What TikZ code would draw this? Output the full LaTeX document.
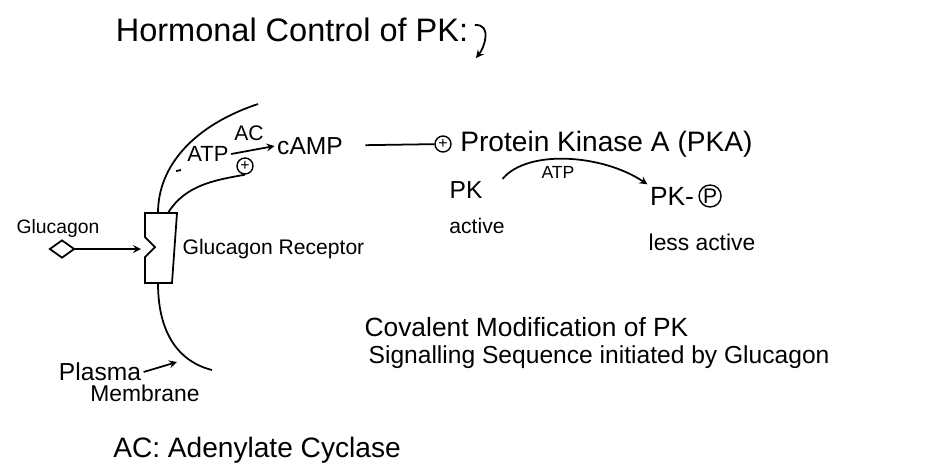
\documentclass[tikz,border=0pt]{standalone}
\usepackage{fontspec}
\setmainfont{Liberation Sans}
\usetikzlibrary{shapes.geometric,positioning}
\newcommand{\txtsz}[1]{\fontsize{#1}{#1}\selectfont}
\tikzset{
  txt/.style={inner sep=1pt},
  plus/.style={circle,draw,line width=0.8pt,inner sep=0pt,minimum size=0.32cm,font=\txtsz{9}},
}
\begin{document}
\begin{tikzpicture}[x=0.02cm,y=-0.02cm,line width=1pt,>=stealth]
        \useasboundingbox (0,0) rectangle (943,468);

            \node[txt,font=\txtsz{18.5}] (title) at (292,30) {Hormonal Control of PK:};
            \draw[->] ([shift={(4,-5)}]title.east) .. controls +(18,-1) and +(8,-10) .. (476,58);

            % membrane and receptor
            \draw (258,104) .. controls (195,125) and (158,165) .. (158,213);
            \draw (158,283) .. controls (158,335) and (180,362) .. (212,370);
            \draw (145,213) -- (177,213) -- (172,283) -- (145,283) -- (145,257) -- (155,247) -- (145,237) -- cycle;
            \coordinate (notch) at (141,249);

            \node[txt,font=\txtsz{11}] (glulbl) at (58,228) {Glucagon};
            \node[draw,diamond,inner sep=0pt,minimum width=0.5cm,minimum height=0.36cm] (glu) at (62,249) {};
            \draw[->] (glu) -- (notch);
            \node[txt,font=\txtsz{12},anchor=west] (rec) at (180,249) {Glucagon Receptor};

            \node[txt,font=\txtsz{14}] (plasma) at (100,372) {Plasma};
            \node[txt,font=\txtsz{13}] (membr) at (145,393) {Membrane};
            \coordinate (pmtip) at (177,362);
            \draw[->] (plasma.east) -- (pmtip);

            % adenylate cyclase step
            \node[txt,font=\txtsz{12.5}] (atp) at (208,154) {ATP};
            \node[txt,font=\txtsz{12}] (ac) at (249,133) {AC};
            \node[plus] (acplus) at (245,166) {+};
            \node[txt,font=\txtsz{14}] (camp) at (310,146) {cAMP};
            \draw[->] (atp.east) -- (camp.west);
            \draw (168,213) .. controls (185,185) and (215,180) .. (acplus.south);
            \draw (176,171) -- (181,170);

            \node[plus] (pkaplus) at (443,144) {+};
            \draw[shorten <=0.4cm] (camp) -- (pkaplus);
            \node[txt,font=\txtsz{16},right=0.12cm of pkaplus] (pka) {Protein Kinase A (PKA)};

            % phosphorylation of PK
            \node[txt,font=\txtsz{14}] (pk) at (466,190) {PK};
            \node[txt,font=\txtsz{12}] (pkact) at (477,226) {active};
            \node[txt,font=\txtsz{15}] (pkp) at (672,196) {PK-};
            \node[circle,draw,line width=0.8pt,inner sep=0pt,minimum size=0.44cm,font=\txtsz{12},right=1pt of pkp] (pcirc) {P};
            \node[txt,font=\txtsz{13}] (pkless) at (702,242) {less active};
            \draw[->] ([xshift=0.35cm]pk.north east) .. controls +(25,-30) and +(-45,-30) .. (pkp.north west);
            \node[txt,font=\txtsz{10}] (atp2) at (558,172) {ATP};

            % captions
            \node[txt,font=\txtsz{15},anchor=west] (cov) at (362,327) {Covalent Modification of PK};
            \node[txt,font=\txtsz{14},anchor=west] (sig) at (366,357) {Signalling Sequence initiated by Glucagon};
            \node[txt,font=\txtsz{16}] (acdef) at (257,450) {AC: Adenylate Cyclase};

        \end{tikzpicture}
\end{document}
